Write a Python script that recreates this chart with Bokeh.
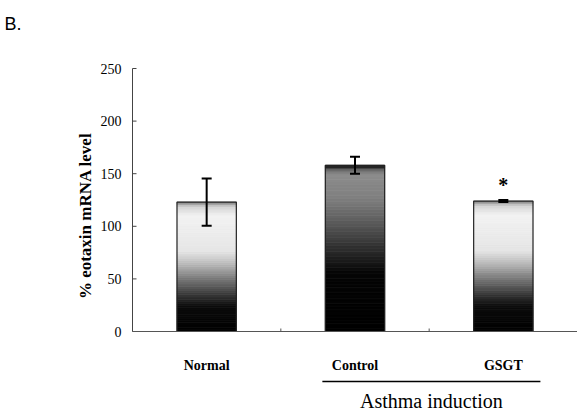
import math
from bokeh.plotting import figure
from bokeh.models import Range1d
from bokeh.core.properties import value
from bokeh.embed import file_html
from bokeh.resources import INLINE

# ---- data ----
groups = ["Normal", "Control", "GSGT"]
values = [123, 158, 124]
errors = [22.5, 8, 1]
star_group = "GSGT"
y_ticks = [0, 50, 100, 150, 200, 250]
boundary_ticks = [1, 2]
y_label = "% eotaxin mRNA level"
bracket_label = "Asthma induction"
bracket_groups = ["Control", "GSGT"]
panel_label = "B."

# gradient profiles (fraction of bar height -> gray level 0=black,1=white)
light_prof_f = [0.0, 0.2, 0.3, 0.42, 0.52, 0.62, 0.9, 0.97, 1.0]
light_prof_g = [0.0, 0.05, 0.25, 0.5, 0.72, 0.9, 0.95, 0.82, 0.5]
dark_prof_f = [0.0, 0.35, 0.5, 0.65, 0.8, 0.95, 0.98, 1.0]
dark_prof_g = [0.0, 0.02, 0.18, 0.35, 0.5, 0.55, 0.35, 0.0]
bar_style = ["light", "dark", "light"]

SERIF = "Liberation Serif"

# frame covers whole canvas; plot area 0..3 maps to x px 132..577,
# y 0..250 maps to y px 331..68
PX_X = 445 / 3.0
PX_Y = 263 / 250.0
x0 = -132 / PX_X
y0 = -79 / PX_Y
y1 = 250 + 68 / PX_Y

p = figure(width=577, height=410, output_backend="svg", toolbar_location=None,
           x_range=Range1d(x0, 3.0), y_range=Range1d(y0, y1),
           min_border=0, min_border_left=0, min_border_right=0,
           min_border_top=0, min_border_bottom=0)
p.outline_line_color = None
p.axis.visible = False
p.xgrid.visible = False
p.ygrid.visible = False
p.background_fill_color = "white"
p.border_fill_color = "white"


def px_x(n):
    return n / PX_X


def px_y(n):
    return n / PX_Y


def interp(f, fs, gs):
    for i in range(len(fs) - 1):
        if fs[i] <= f <= fs[i + 1]:
            t = (f - fs[i]) / (fs[i + 1] - fs[i])
            return gs[i] + t * (gs[i + 1] - gs[i])
    return gs[-1]


# ---- bars (vertical gradient built from slices) ----
bar_w = 0.4
nslices = 60
L, R, B, T, C = [], [], [], [], []
for i, (v, st) in enumerate(zip(values, bar_style)):
    xc = i + 0.5
    fs, gs = (light_prof_f, light_prof_g) if st == "light" else (dark_prof_f, dark_prof_g)
    for k in range(nslices):
        f0 = k / nslices
        f1 = (k + 1) / nslices
        g = interp((f0 + f1) / 2, fs, gs)
        c = int(round(g * 255))
        L.append(xc - bar_w / 2)
        R.append(xc + bar_w / 2)
        B.append(f0 * v)
        T.append(f1 * v)
        C.append("#%02x%02x%02x" % (c, c, c))
p.quad(left=L, right=R, bottom=B, top=T, fill_color=C, line_color=C, line_width=0.8)

xs = [i + 0.5 for i in range(len(groups))]
p.vbar(x=xs, top=values, width=bar_w, fill_color=None, line_color="#222222",
       line_width=1.2)

# ---- axes drawn manually ----
# y axis line and inward ticks
p.segment(x0=[0], y0=[min(y_ticks)], x1=[0], y1=[max(y_ticks)],
          line_color="#444444", line_width=1)
p.segment(x0=[0] * len(y_ticks), y0=y_ticks, x1=[px_x(4)] * len(y_ticks), y1=y_ticks,
          line_color="#444444", line_width=1)
p.text(x=[-px_x(11)] * len(y_ticks), y=y_ticks, text=[str(t) for t in y_ticks],
       text_align="right", text_baseline="middle", text_font=value(SERIF),
       text_font_size="14px", text_color="black")
# y axis label
p.text(x=[-px_x(47)], y=[110], text=[y_label], angle=math.pi / 2,
       text_align="center", text_baseline="middle", text_font=value(SERIF),
       text_font_style="bold", text_font_size="17px", text_color="black")

# x axis line and boundary ticks
p.segment(x0=[0], y0=[0], x1=[len(groups)], y1=[0], line_color="#555555", line_width=1)
p.segment(x0=boundary_ticks, y0=[0] * len(boundary_ticks), x1=boundary_ticks,
          y1=[px_y(3)] * len(boundary_ticks), line_color="#555555", line_width=1)

# ---- error bars ----
cap = px_x(5)
ups = [v + e for v, e in zip(values, errors)]
lows = [v - e for v, e in zip(values, errors)]
p.segment(x0=xs, y0=lows, x1=xs, y1=ups, line_color="black", line_width=2)
p.segment(x0=[x - cap for x in xs], y0=ups, x1=[x + cap for x in xs], y1=ups,
          line_color="black", line_width=2)
p.segment(x0=[x - cap for x in xs], y0=lows, x1=[x + cap for x in xs], y1=lows,
          line_color="black", line_width=2)

# significance star
si = groups.index(star_group)
p.text(x=[si + 0.5], y=[values[si] + px_y(5)], text=["*"], text_align="center",
       text_baseline="bottom", text_font=value(SERIF), text_font_style="bold",
       text_font_size="20px", text_color="black")

# category labels
p.text(x=xs, y=[-px_y(34)] * len(groups), text=groups, text_align="center",
       text_baseline="alphabetic", text_font=value(SERIF), text_font_style="bold",
       text_font_size="14px", text_color="black")

# bracket under asthma groups
bi = [groups.index(g) for g in bracket_groups]
bl = min(bi) + 0.5 - 0.22
br = max(bi) + 0.5 + 0.25
p.segment(x0=[bl], y0=[-px_y(50)], x1=[br], y1=[-px_y(50)], line_color="black",
          line_width=1.3)
p.text(x=[(bl + br) / 2], y=[-px_y(69)], text=[bracket_label], text_align="center",
       text_baseline="alphabetic", text_font=value(SERIF), text_font_size="20px",
       text_color="black")

# panel label
p.text(x=[x0 + px_x(4)], y=[y1 - px_y(23)], text=[panel_label], text_align="left",
       text_baseline="alphabetic", text_font=value("Liberation Sans"),
       text_font_size="18px", text_color="black")

open("out.html", "w").write(file_html(p, INLINE))
